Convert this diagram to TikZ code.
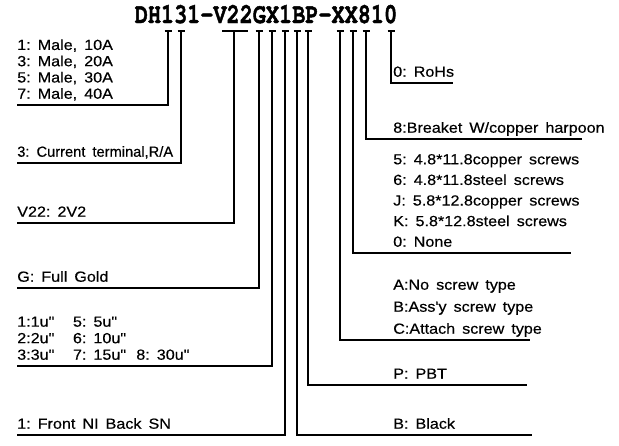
\documentclass[tikz,border=0pt]{standalone}
\usepackage{fontspec}
\setmainfont{Liberation Sans}
\newfontfamily\cadfont[FakeStretch=1.1, FakeBold=0.4]{Liberation Sans}
\newfontfamily\partfont[FakeStretch=0.77, FakeBold=1.5]{TeX Gyre Cursor}
\usetikzlibrary{calc, positioning}
\newcommand{\lblfont}[1]{\cadfont\fontsize{11pt}{#1}\selectfont\frenchspacing\spaceskip=0.48em\relax}

\begin{document}
\begin{tikzpicture}[x=0.75pt, y=-0.75pt,
  lead/.style={line width=0.9pt},
  lbl/.style={inner xsep=0pt, inner ysep=4.5pt, text depth=0pt, align=left, anchor=south west, font=\lblfont{#1}},
  lbl/.default=13.5pt]
  \useasboundingbox (0,0) rectangle (619,446);
  \node[font=\partfont\bfseries\fontsize{21.3pt}{21.3pt}\selectfont, inner sep=0pt, anchor=base west] (part) at (134.5,23) {DH131-V22GX1BP-XX810};
  \foreach \n/\x in {t1/168, t3/181, tV/234, tG/259, tX/272, tN/285, tB/297, tP/308, tS/340, tT/353, tH/366, tR/391}
    \coordinate (\n) at (\x,31);
  \foreach \n in {t1, t3, tG, tX, tN, tB, tP, tS, tT, tH, tR}
    \draw[lead] (\n) ++(-3.5,0) -- ++(7,0);
  \draw[lead] (tV) ++(-12,0) -- ++(26,0);

  \node[lbl=12.2pt] (male) at (17,105) {1: Male, 10A\\3: Male, 20A\\5: Male, 30A\\7: Male, 40A};
  \node[lbl] (cur) at (17,163) {\addfontfeatures{FakeStretch=1.0}3: Current terminal,R/A};
  \node[lbl] (vtwo) at (17,223) {V22: 2V2};
  \node[lbl] (gold) at (17,288) {G: Full Gold};
  \node[lbl=12.4pt] (thick) at (17,366) {\makebox[41.8pt][l]{1:1u"}5: 5u"\\\makebox[41.8pt][l]{2:2u"}6: 10u"\\\makebox[41.8pt][l]{3:3u"}\makebox[47.5pt][l]{7: 15u"}8: 30u"};
  \node[lbl] (plate) at (17,435) {1: Front NI Back SN};

  \node[lbl] (rohs) at (393,83) {0: RoHs};
  \node[lbl] (brk) at (393,139) {8:Breaket W/copper harpoon};
  \node[lbl=15.45pt] (scr) at (393,253) {5: 4.8*11.8copper screws\\6: 4.8*11.8steel screws\\J: 5.8*12.8copper screws\\K: 5.8*12.8steel screws\\0: None};
  \node[lbl=16.5pt] (styp) at (393,340) {A:No screw type\\B:Ass'y screw type\\C:Attach screw type};
  \node[lbl] (pbt) at (393,385) {P: PBT};
  \node[lbl] (blk) at (393,435) {B: Black};
  \coordinate (rohsE) at (453,83);
  \coordinate (brkE) at (582,139);
  \coordinate (scrE) at (571,253);
  \coordinate (stypE) at (530,340);
  \coordinate (pbtE) at (527,385);
  \coordinate (blkE) at (532,435);

  \draw[lead] (t1) |- (male.south west);
  \draw[lead] (t3) |- (cur.south west);
  \draw[lead] (tV) |- (vtwo.south west);
  \draw[lead] (tG) |- (gold.south west);
  \draw[lead] (tX) |- (thick.south west);
  \draw[lead] (tN) |- (plate.south west);
  \draw[lead] (tR) |- (rohsE);
  \draw[lead] (tH) |- (brkE);
  \draw[lead] (tT) |- (scrE);
  \draw[lead] (tS) |- (stypE);
  \draw[lead] (tP) |- (pbtE);
  \draw[lead] (tB) |- (blkE);
\end{tikzpicture}
\end{document}
